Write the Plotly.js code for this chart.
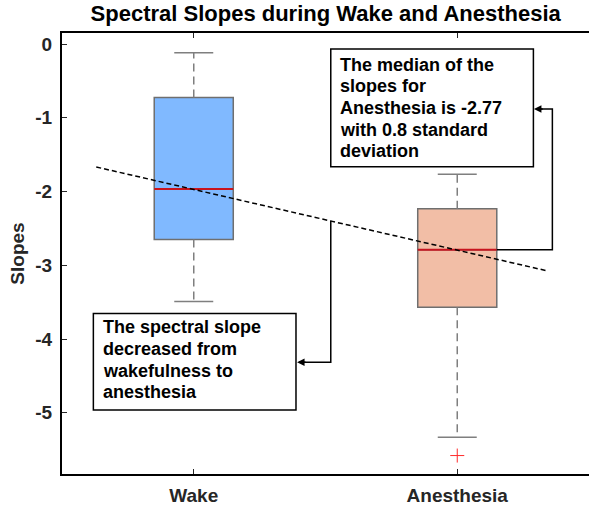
<!DOCTYPE html>
<html><head><meta charset="utf-8">
<script src="https://cdn.plot.ly/plotly-3.0.1.min.js"></script>
<style>html,body{margin:0;padding:0;background:#fff;overflow:hidden}</style>
</head><body><div id="chart" style="width:589px;height:508px"></div>
<script>
// ---- data ----
const groups = ["Wake", "Anesthesia"];
const groupPos = [1, 2];
const q1 = [-2.65, -3.57];
const medians = [-1.966, -2.79];
const q3 = [-0.724, -2.233];
const lowerWhisker = [-3.49, -5.33];
const upperWhisker = [-0.118, -1.766];
const outlierPos = [2];
const outlierValues = [-5.58];
const trendX = [0.63, 2.335];
const trendY = [-1.667, -3.07];
const yTicks = [0, -1, -2, -3, -4, -5];
const noteMedian = ["The median of the", "slopes for", "Anesthesia is -2.77", "with 0.8 standard", "deviation"];
const noteTrend = ["The spectral slope", "decreased from", "wakefulness to", "anesthesia"];

// ---- styles ----
const fills = ["#80b9ff", "#f2bea6"];
const edge = "#6f6f6f";
const whiskerCol = "#7f7f7f";
const medCol = "#c8141e";
const boxW = 0.3, capHalf = 0.074;
const FONT = "Liberation Sans, Arial, sans-serif";
const lineStep = 0.294; // text line spacing in y units
const yRange = [-5.83, 0.15];

const traces = [];
groups.forEach((g, i) => {
  const p = groupPos[i];
  traces.push({
    type: "box", x: [p], q1: [q1[i]], median: [medians[i]], q3: [q3[i]],
    lowerfence: [q1[i]], upperfence: [q3[i]], width: boxW, whiskerwidth: 0,
    fillcolor: fills[i], line: {color: edge, width: 1.5}, boxpoints: false,
    hoverinfo: "skip", showlegend: false
  });
  traces.push({
    type: "scatter", mode: "lines", x: [p, p, null, p, p],
    y: [q3[i], upperWhisker[i], null, q1[i], lowerWhisker[i]],
    line: {color: whiskerCol, width: 1.5, dash: "8px,5px"}, hoverinfo: "skip", showlegend: false
  });
  traces.push({
    type: "scatter", mode: "lines", x: [p - capHalf, p + capHalf, null, p - capHalf, p + capHalf],
    y: [upperWhisker[i], upperWhisker[i], null, lowerWhisker[i], lowerWhisker[i]],
    line: {color: whiskerCol, width: 1.5}, hoverinfo: "skip", showlegend: false
  });
  traces.push({
    type: "scatter", mode: "lines", x: [p - boxW / 2, p + boxW / 2], y: [medians[i], medians[i]],
    line: {color: medCol, width: 2}, hoverinfo: "skip", showlegend: false
  });
});
traces.push({
  type: "scatter", mode: "markers", x: outlierPos, y: outlierValues,
  marker: {symbol: "cross-thin", size: 10, line: {color: "#ff2a2a", width: 1}},
  hoverinfo: "skip", showlegend: false
});
traces.push({
  type: "scatter", mode: "lines", x: trendX, y: trendY,
  line: {color: "#000", width: 1.5, dash: "5px,3px"}, hoverinfo: "skip", showlegend: false
});
// connector lines for the callouts
traces.push({
  type: "scatter", mode: "lines",
  x: [2.15, 2.361, 2.361, 2.30, null, 1.520, 1.520, 1.40],
  y: [medians[1], medians[1], -0.881, -0.881, null, -2.396, -4.316, -4.316],
  line: {color: "#000", width: 1.5}, hoverinfo: "skip", showlegend: false
});

const annotations = [];
noteMedian.forEach((t, i) => annotations.push({
  xref: "x", yref: "y", x: 1.548, y: -0.28 - i * lineStep, xanchor: "left", yanchor: "middle", align: "left",
  text: "<b>" + t + "</b>", showarrow: false, font: {size: 18, color: "#000"}
}));
noteTrend.forEach((t, i) => annotations.push({
  xref: "x", yref: "y", x: 0.648, y: -3.84 - i * lineStep, xanchor: "left", yanchor: "middle", align: "left",
  text: "<b>" + t + "</b>", showarrow: false, font: {size: 18, color: "#000"}
}));
annotations.push(
  {xref: "x", yref: "y", axref: "x", ayref: "y", x: 2.291, y: -0.881, ax: 2.33, ay: -0.881,
   text: "", showarrow: true, arrowhead: 2, arrowsize: 1, arrowwidth: 1.5, arrowcolor: "#000"},
  {xref: "x", yref: "y", axref: "x", ayref: "y", x: 1.392, y: -4.316, ax: 1.43, ay: -4.316,
   text: "", showarrow: true, arrowhead: 2, arrowsize: 1, arrowwidth: 1.5, arrowcolor: "#000"}
);

const layout = {
  width: 589, height: 508,
  margin: {l: 62, r: 0, t: 33, b: 34},
  paper_bgcolor: "#fff", plot_bgcolor: "#fff",
  font: {family: FONT, color: "#000"},
  title: {text: "<b>Spectral Slopes during Wake and Anesthesia</b>", font: {size: 22, color: "#000"},
          x: 0.553, xanchor: "center", y: 0.988, yanchor: "top"},
  xaxis: {
    range: [0.5, 2.5], tickvals: groupPos, ticktext: groups.map(s => "<b>" + s + "</b>"),
    tickfont: {size: 19, color: "#262626"}, ticks: "inside", ticklen: 5, tickcolor: "#262626",
    showline: true, linecolor: "#000", linewidth: 2, mirror: "ticks", showgrid: false, zeroline: false,
    ticklabelstandoff: 3
  },
  yaxis: {
    range: yRange, tickvals: yTicks, ticktext: yTicks.map(v => "<b>" + v + "</b>"),
    tickfont: {size: 19, color: "#262626"}, ticks: "inside", ticklen: 5, tickcolor: "#262626",
    showline: true, linecolor: "#000", linewidth: 2, mirror: false, showgrid: false, zeroline: false,
    title: {text: "<b>Slopes</b>", font: {size: 19, color: "#262626"}, standoff: 6},
    ticklabelstandoff: 4
  },
  yaxis2: {
    overlaying: "y", side: "right", range: yRange, tickvals: yTicks, showticklabels: false,
    ticks: "inside", ticklen: 5, tickcolor: "#262626", showline: true, linecolor: "#e6e6e6", linewidth: 1,
    showgrid: false, zeroline: false
  },
  shapes: [
    {type: "rect", xref: "x", yref: "y", x0: 1.520, x1: 2.289, y0: -0.068, y1: -1.664,
     line: {color: "#000", width: 1.5}, fillcolor: "#fff", layer: "above"},
    {type: "rect", xref: "x", yref: "y", x0: 0.619, x1: 1.388, y0: -3.652, y1: -4.963,
     line: {color: "#000", width: 1.5}, fillcolor: "#fff", layer: "above"}
  ],
  annotations: annotations
};

Plotly.newPlot("chart", traces, layout, {displayModeBar: false, staticPlot: true});
</script>
</body></html>
